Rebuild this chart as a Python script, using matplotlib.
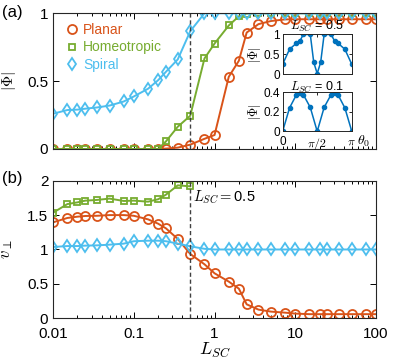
import numpy as np
import matplotlib
matplotlib.use("Agg")
import matplotlib.pyplot as plt
from matplotlib.ticker import LogLocator, NullFormatter

plt.rcParams['font.family'] = ['Liberation Sans', 'DejaVu Sans']
plt.rcParams['mathtext.fontset'] = 'cm'

L = [0.01, 0.015, 0.02, 0.025, 0.035, 0.05, 0.075, 0.1, 0.15, 0.2, 0.25, 0.35, 0.5,
     0.75, 1, 1.5, 2, 2.5, 3.5, 5, 7.5, 10, 15, 20, 25, 35, 50, 75, 100]

phi_planar = [0, 0, 0, 0, 0, 0, 0, 0, 0, 0, 0.003, 0.01, 0.032,
              0.075, 0.103, 0.532, 0.65, 0.858, 0.92, 0.943, 0.955, 0.956, 0.956, 0.956,
              0.956, 0.956, 0.956, 0.956, 0.956]
phi_homeo = [0, 0, 0, 0, 0, 0, 0, 0, 0, 0, 0.056, 0.164, 0.245,
             0.667, 0.777, 0.91, 0.978, 0.998, 1, 1, 1, 1, 1, 1, 1, 1, 1, 1, 1]
phi_spiral = [0.26, 0.287, 0.29, 0.297, 0.306, 0.32, 0.35, 0.387, 0.444, 0.507, 0.569, 0.66, 0.868,
              1.0, 1.0, 1.0, 1.0, 1.0, 1.0, 1.0, 1.0, 1.0, 1.0, 1.0, 1.0, 1.0, 1.0, 1.0, 1.0]

v_planar = [1.395, 1.458, 1.477, 1.487, 1.49, 1.50, 1.50, 1.49, 1.438, 1.375, 1.307, 1.153, 0.935,
            0.785, 0.654, 0.533, 0.431, 0.203, 0.126, 0.097, 0.082, 0.068, 0.06, 0.06,
            0.06, 0.06, 0.06, 0.06, 0.06]
L_homeo_v = L[:13]
v_homeo = [1.535, 1.66, 1.685, 1.71, 1.72, 1.74, 1.705, 1.71, 1.695, 1.73, 1.797, 1.932, 1.918]
v_spiral = [1.036, 1.05, 1.05, 1.056, 1.06, 1.07, 1.085, 1.12, 1.128, 1.128, 1.12, 1.085, 1.046,
            1.01, 1.0, 1.0, 1.0, 1.0, 1.0, 1.0, 1.0, 1.0, 1.0, 1.0, 1.0, 1.0, 1.0, 1.0, 1.0]

theta1 = np.array([0, 0.1, 0.2, 0.25, 0.3, 0.4, 0.45, 0.5, 0.55, 0.6, 0.7, 0.75, 0.8, 0.9, 1.0]) * np.pi
phi1 = [0.25, 0.63, 0.78, 0.84, 1.0, 1.0, 0.3, 0.02, 0.3, 1.0, 1.0, 0.84, 0.78, 0.63, 0.25]
theta2 = np.array([0, 0.1, 0.2, 0.25, 0.3, 0.4, 0.5, 0.6, 0.7, 0.75, 0.8, 0.9, 1.0]) * np.pi
phi2 = [0, 0.24, 0.375, 0.39, 0.375, 0.245, 0, 0.245, 0.375, 0.39, 0.375, 0.24, 0]

c_pl = '#D95319'
c_ho = '#77AC30'
c_sp = '#4DBEEE'
c_in = '#0072BD'

fig = plt.figure(figsize=(4.15, 3.59), dpi=100)
axa = fig.add_axes([0.128, 0.585, 0.778, 0.378])
axb = fig.add_axes([0.128, 0.1134, 0.778, 0.3833])

kw = dict(lw=1.4, mfc='none', mew=1.3)
axa.plot(L, phi_planar, 'o-', color=c_pl, ms=6.5, label='Planar', **kw)
axa.plot(L, phi_homeo, 's-', color=c_ho, ms=5, label='Homeotropic', **kw)
axa.plot(L, phi_spiral, 'd-', color=c_sp, ms=6.5, label='Spiral', **kw)
axb.plot(L, v_planar, 'o-', color=c_pl, ms=6.5, **kw)
axb.plot(L_homeo_v, v_homeo, 's-', color=c_ho, ms=5, **kw)
axb.plot(L, v_spiral, 'd-', color=c_sp, ms=6.5, **kw)

for ax in (axa, axb):
    ax.set_xscale('log')
    ax.set_xlim(0.01, 100)
    ax.axvline(0.5, color='#404040', ls='--', lw=1.0, dashes=(3, 2))
    ax.tick_params(which='both', direction='in', top=True, right=True, labelsize=11, width=0.7)
    ax.tick_params(which='major', length=4)
    ax.tick_params(which='minor', length=2.2)
    ax.xaxis.set_major_locator(LogLocator(base=10, numticks=10))
    ax.xaxis.set_minor_locator(LogLocator(base=10, subs=np.arange(2, 10), numticks=10))
    ax.xaxis.set_minor_formatter(NullFormatter())
    for s in ax.spines.values():
        s.set_linewidth(0.8)
        s.set_color('#262626')

axa.set_ylim(0, 1)
axa.set_yticks([0, 0.5, 1])
axa.set_yticklabels(['0', '0.5', '1'])
axa.set_xticklabels([])
axa.set_ylabel(r'$|\Phi|$', fontsize=11)
axa.yaxis.set_label_coords(-0.108, 0.5)

axb.set_ylim(0, 2)
axb.set_yticks([0, 0.5, 1, 1.5, 2])
axb.set_yticklabels(['0', '0.5', '1', '1.5', '2'])
axb.set_xticks([0.01, 0.1, 1, 10, 100])
axb.set_xticklabels(['0.01', '0.1', '1', '10', '100'])
axb.tick_params(axis='x', which='major', pad=6)
axb.set_ylabel(r'$v_\perp$', fontsize=12)
axb.yaxis.set_label_coords(-0.118, 0.5)
axb.set_xlabel(r'$L_{SC}$', fontsize=13, labelpad=0)
axb.text(0.54, 1.76, r'$L_{SC}=$0.5', fontsize=10.5, va='center', ha='left')

leg = axa.legend(loc='upper left', frameon=False, fontsize=10, handlelength=0.6,
                 handletextpad=0.5, labelspacing=0.25, borderaxespad=0.3,
                 bbox_to_anchor=(0.015, 1.0))
for t, c in zip(leg.get_texts(), [c_pl, c_ho, c_sp]):
    t.set_color(c)
for h in leg.legend_handles:
    h.set_linestyle('none')

fig.text(0.005, 0.965, '(a)', fontsize=12, va='center')
fig.text(0.005, 0.503, '(b)', fontsize=12, va='center')

# insets
in1 = fig.add_axes([0.681, 0.793, 0.1667, 0.111])
in2 = fig.add_axes([0.681, 0.634, 0.1667, 0.109])
in1.plot(theta1, phi1, '.-', color=c_in, lw=1.1, ms=6)
in2.plot(theta2, phi2, '.-', color=c_in, lw=1.1, ms=6)
in1.set_ylim(0, 1)
in1.set_yticks([0, 0.5, 1])
in1.set_yticklabels(['0', '0.5', '1'])
in2.set_ylim(0, 0.4)
in2.set_yticks([0, 0.2, 0.4])
in2.set_yticklabels(['0', '0.2', '0.4'])
for ia in (in1, in2):
    ia.set_xlim(0, np.pi)
    ia.set_xticks([0, np.pi / 2, np.pi])
    ia.tick_params(direction='in', labelsize=8.5, length=2, width=0.6, pad=1, top=True, right=True)
    ia.tick_params(axis='y', pad=2)
    ia.set_ylabel(r'$|\Phi|$', fontsize=9, labelpad=0)
    for s in ia.spines.values():
        s.set_linewidth(0.7)
        s.set_color('#262626')
in1.set_xticklabels([])
in2.set_xticklabels(['0', r'$\pi/2$', r'$\pi$'])
in2.tick_params(axis='x', pad=3)
in1.set_title(r'$L_{SC}$ = 0.5', fontsize=9, pad=1)
in2.set_title(r'$L_{SC}$ = 0.1', fontsize=9, pad=1)
in2.text(1.08, -0.25, r'$\theta_0$', transform=in2.transAxes, fontsize=10, va='center')

fig.savefig('out.png', dpi=100)
